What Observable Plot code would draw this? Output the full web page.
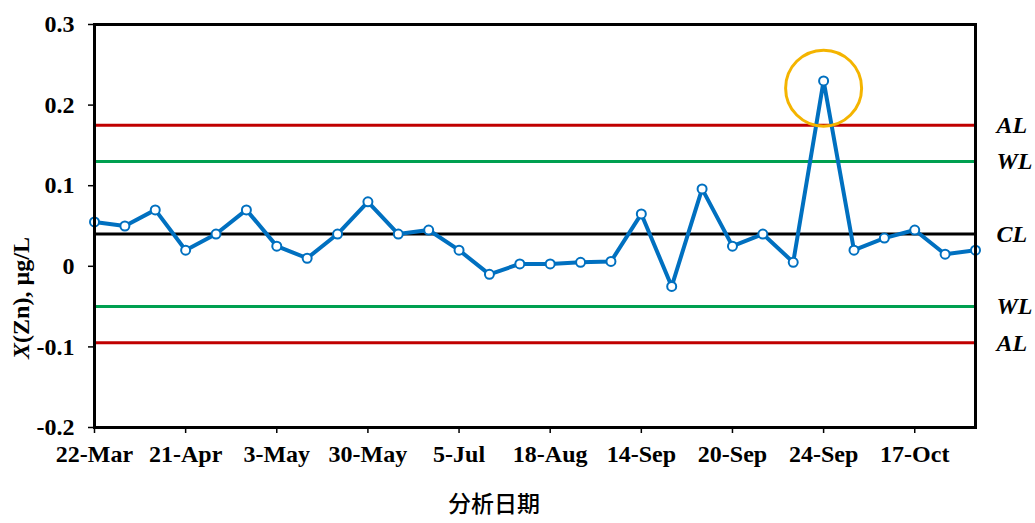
<!DOCTYPE html>
<html>
<head>
<meta charset="utf-8">
<script src="https://cdn.jsdelivr.net/npm/d3@7"></script>
<script src="https://cdn.jsdelivr.net/npm/@observablehq/plot@0.6"></script>
<style>
  html, body { margin: 0; padding: 0; background: #fff; }
</style>
</head>
<body>
<div id="chart"></div>
<script>
// Sample sequence (analysis order)
const sampleIndex = [0,1,2,3,4,5,6,7,8,9,10,11,12,13,14,15,16,17,18,19,20,21,22,23,24,25,26,27,28,29];
// Measured X(Zn), µg/L
const values = [0.055,0.050,0.070,0.020,0.040,0.070,0.025,0.010,0.040,0.080,
                0.040,0.045,0.020,-0.010,0.003,0.003,0.005,0.006,0.065,-0.025,
                0.096,0.025,0.040,0.005,0.230,0.020,0.035,0.045,0.015,0.020];
// x-axis tick labels and the sample they sit under
const tickLabels = ["22-Mar","21-Apr","3-May","30-May","5-Jul","18-Aug","14-Sep","20-Sep","24-Sep","17-Oct"];
const tickIndex = [0,3,6,9,12,15,18,21,24,27];
// y-axis ticks
const yTicks = [-0.2,-0.1,0,0.1,0.2,0.3];
// control limits
const limitLabels = ["AL","WL","CL","WL","AL"];
const limitValues = [0.175,0.13,0.04,-0.05,-0.095];
const limitColors = ["#C00000","#00A050","#000000","#00A050","#C00000"];
// highlighted outlier
const highlightIndex = [24];
const highlightValue = [0.221];

const data = sampleIndex.map((i, k) => ({i, v: values[k]}));
const limits = limitLabels.map((label, k) => ({label, value: limitValues[k], color: limitColors[k]}));
const highlight = highlightIndex.map((i, k) => ({i, v: highlightValue[k]}));

const fmt = d => d === 0 ? "0" : (d < 0 ? "-" + String(-d) : String(d));
const serif = "'Liberation Serif', 'Times New Roman', serif";

const chart = Plot.plot({
  width: 1035,
  height: 523,
  marginLeft: 94,
  marginRight: 60,
  marginTop: 24,
  marginBottom: 96,
  style: {fontFamily: serif, fontWeight: "bold", fontSize: "24px", color: "#000", background: "#fff"},
  x: {type: "point", domain: sampleIndex, padding: 0, round: false},
  y: {domain: [-0.2, 0.3]},
  marks: [
    Plot.ruleY(limits, {y: "value", stroke: "color", strokeWidth: 3}),
    Plot.line(data, {x: "i", y: "v", stroke: "#0070C0", strokeWidth: 4}),
    Plot.dot(data, {x: "i", y: "v", r: 4.5, fill: "#fff", stroke: "#0070C0", strokeWidth: 2}),
    Plot.dot(highlight, {x: "i", y: "v", r: 38, fill: "none", stroke: "#F4B400", strokeWidth: 3}),
    Plot.text(limits, {y: "value", text: "label", frameAnchor: "right", textAnchor: "start", dx: 21, fontStyle: "italic", fontWeight: "bold", fontSize: 24, fontFamily: serif}),
    Plot.axisY({ticks: yTicks, tickFormat: fmt, tickSize: 6, tickPadding: 14, label: null, strokeWidth: 1.5, fontSize: 24, fontWeight: "bold", fontFamily: serif}),
    Plot.axisX({ticks: tickIndex, tickFormat: i => tickLabels[tickIndex.indexOf(i)], tickSize: 6, tickPadding: 11, label: null, strokeWidth: 1.5, fontSize: 24, fontWeight: "bold", fontFamily: serif}),
    Plot.frame({stroke: "#000", strokeWidth: 3})
  ]
});

const svg = d3.select(chart);
// y-axis title with italic X
const yt = svg.append("text")
  .attr("transform", "translate(29,298) rotate(-90)")
  .attr("text-anchor", "middle")
  .attr("font-family", serif)
  .attr("font-weight", "bold")
  .attr("font-size", 24)
  .attr("fill", "#000");
yt.append("tspan").attr("font-style", "italic").text("X");
yt.append("tspan").text("(Zn), µg/L");
// x-axis title
svg.append("text")
  .attr("x", 494).attr("y", 506)
  .attr("dominant-baseline", "middle")
  .attr("text-anchor", "middle")
  .attr("font-family", "'Noto Sans CJK SC', sans-serif")
  .attr("font-weight", "500")
  .attr("font-size", 23)
  .attr("fill", "#000")
  .text("分析日期");

document.getElementById("chart").appendChild(chart);
</script>
</body>
</html>
